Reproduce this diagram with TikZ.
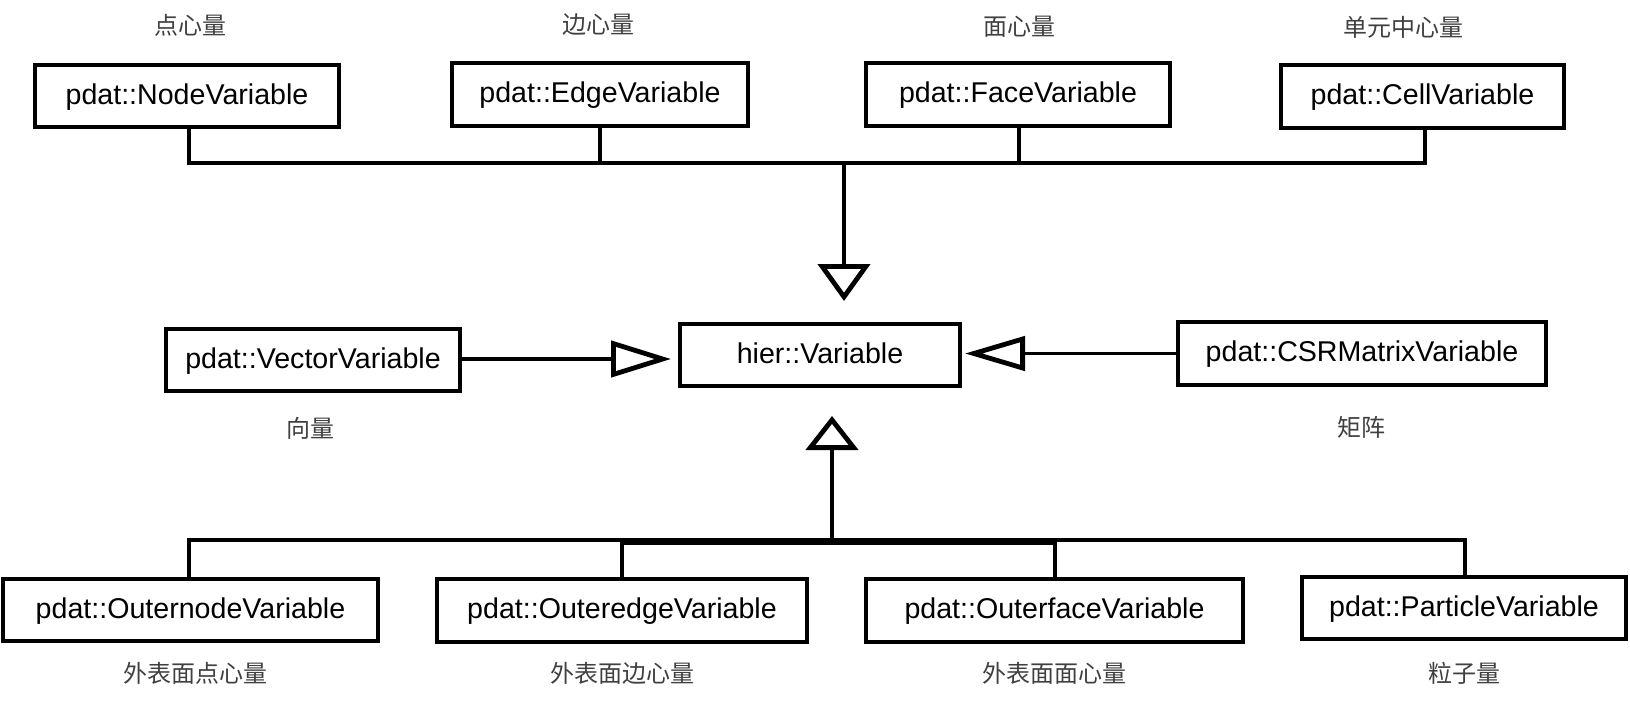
\documentclass[tikz,border=0pt]{standalone}
\usepackage{fontspec}
\setmainfont{Liberation Sans}
\newfontfamily\cjk{Noto Sans CJK SC}
\usetikzlibrary{arrows.meta}
\begin{document}
\begin{tikzpicture}[x=0.5pt,y=-0.5pt,
  cls/.style={draw=black, line width=1.6pt, inner sep=0pt, fill=white,
    text height=1.0em, text depth=0.2em,
    font=\fontsize{14.3}{16}\selectfont},
  lbl/.style={inner sep=0pt, text=black!75, font=\cjk\fontsize{12}{14}\selectfont},
  conn/.style={draw=black, line width=1.6pt},
  inh/.style={-{Triangle[open, line width=2.4pt, #1]}}
]
\useasboundingbox (0,0) rectangle (1630,702);
% top row
\node[cls, minimum width=152pt, minimum height=31pt] (nv) at (187,96) {pdat::NodeVariable};
\node[cls, minimum width=148pt, minimum height=31.5pt] (ev) at (600,94.5) {pdat::EdgeVariable};
\node[cls, minimum width=152pt, minimum height=31.5pt] (fv) at (1018,94.5) {pdat::FaceVariable};
\node[cls, minimum width=141.5pt, minimum height=31.5pt] (cv) at (1422.5,96.5) {pdat::CellVariable};
% middle row
\node[cls, minimum width=140pt, minimum height=31pt] (hv) at (820,355) {hier::Variable};
\node[cls, minimum width=147pt, minimum height=31pt] (vv) at (313,360) {pdat::VectorVariable};
\node[cls, minimum width=184pt, minimum height=31.5pt] (csr) at (1362,353.5) {pdat::CSRMatrixVariable};
% bottom row
\node[cls, minimum width=187.5pt, minimum height=31pt] (on) at (190.5,610) {pdat::OuternodeVariable};
\node[cls, minimum width=185pt, minimum height=31.5pt] (oe) at (622,610.5) {pdat::OuteredgeVariable};
\node[cls, minimum width=188.5pt, minimum height=31.5pt] (of) at (1054.5,610.5) {pdat::OuterfaceVariable};
\node[cls, minimum width=162pt, minimum height=31pt] (pv) at (1464,608) {pdat::ParticleVariable};
% labels
\node[lbl] (l1) at (190,25) {点心量};
\node[lbl] (l2) at (598,25) {边心量};
\node[lbl] (l3) at (1019,27) {面心量};
\node[lbl] (l4) at (1403,27) {单元中心量};
\node[lbl] (l5) at (310,428) {向量};
\node[lbl] (l6) at (1361,427) {矩阵};
\node[lbl] (l7) at (195,673) {外表面点心量};
\node[lbl] (l8) at (622,673) {外表面边心量};
\node[lbl] (l9) at (1054,673) {外表面面心量};
\node[lbl] (l10) at (1464,673) {粒子量};
% top bus
\coordinate (tb1) at (189,163);
\coordinate (tb4) at (1425,163);
\coordinate (tj) at (844,163);
\coordinate (ttip) at (844,301);
\draw[conn] (nv.south -| tb1) -- (tb1) -- (tb4) -- (cv.south -| tb4);
\draw[conn] (ev.south) -- (ev.south |- tb1);
\draw[conn] (fv.south -| 1019,0) -- (1019,163);
\draw[conn, inh={length=18.5pt, width=26pt}] (tj) -- (ttip);
% side arrows
\draw[conn, inh={length=30pt, width=18pt}] (vv.east |- 0,359) -- (671,359);
\draw[conn, inh={length=30pt, width=17pt}] (csr.west) -- (965,353.5);
% bottom bus
\coordinate (bb1) at (189,540);
\coordinate (bb4) at (1465,540);
\coordinate (bj) at (832,540);
\coordinate (btip) at (832,416);
\draw[conn] (on.north -| bb1) -- (bb1) -- (bb4) -- (pv.north -| bb4);
\draw[conn] (oe.north) -- (622,543) -- (1055,543) -- (of.north -| 1055,0);
\draw[conn, inh={length=17pt, width=26pt}] (bj) -- (btip);
\end{tikzpicture}
\end{document}
